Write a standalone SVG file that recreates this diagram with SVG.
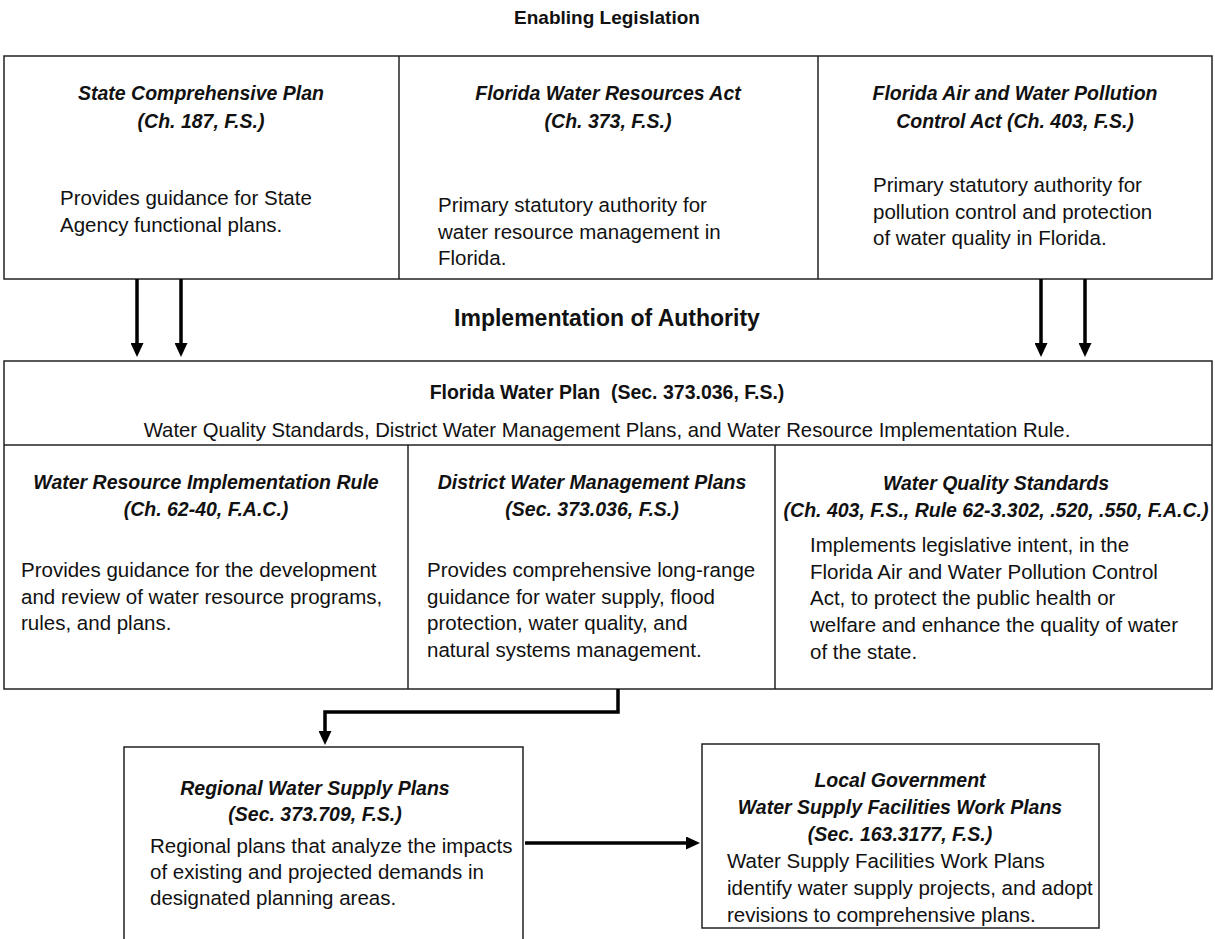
<svg xmlns="http://www.w3.org/2000/svg" width="1215" height="939" viewBox="0 0 1215 939">
<style>
text{font-family:"Liberation Sans",Arial,sans-serif;fill:#111}
.h1{font-size:19px;font-weight:bold;text-anchor:middle}
.h2{font-size:23px;font-weight:bold;text-anchor:middle}
.t{font-size:19.5px;font-weight:bold;font-style:italic;text-anchor:middle}
.b{font-size:20.5px}
.bc{font-size:20.3px;text-anchor:middle}
.fb{font-size:19.5px;font-weight:bold;text-anchor:middle}
.box{fill:#fff;stroke:#222;stroke-width:1.5}
.ln{stroke:#222;stroke-width:1.5;fill:none}
.con{stroke:#000;stroke-width:3.5;fill:none}
</style>
<defs>
<marker id="ah" viewBox="0 0 14 13" refX="2" refY="6.5" markerWidth="14" markerHeight="13" markerUnits="userSpaceOnUse" orient="auto">
<path d="M0,0 L14,6.5 L0,13 z" fill="#000"/>
</marker>
</defs>
<rect width="1215" height="939" fill="#fff"/>

<text class="h1" x="607" y="24">Enabling Legislation</text>
<text class="h2" x="607" y="326">Implementation of Authority</text>

<g id="enabling">
<rect class="box" x="4" y="56" width="1208" height="223"/>
<line class="ln" x1="399" y1="56" x2="399" y2="279"/>
<line class="ln" x1="818" y1="56" x2="818" y2="279"/>
</g>

<g id="state-comprehensive-plan">
<text class="t" x="201" y="100">State Comprehensive Plan</text>
<text class="t" x="201" y="128">(Ch. 187, F.S.)</text>
<text class="b" x="60" y="205">Provides guidance for State</text>
<text class="b" x="60" y="232">Agency functional plans.</text>
</g>

<g id="florida-water-resources-act">
<text class="t" x="608" y="100">Florida Water Resources Act</text>
<text class="t" x="608" y="128">(Ch. 373, F.S.)</text>
<text class="b" x="438" y="212">Primary statutory authority for</text>
<text class="b" x="438" y="239">water resource management in</text>
<text class="b" x="438" y="265">Florida.</text>
</g>

<g id="air-water-pollution-act">
<text class="t" x="1015" y="100">Florida Air and Water Pollution</text>
<text class="t" x="1015" y="128">Control Act (Ch. 403, F.S.)</text>
<text class="b" x="873" y="192">Primary statutory authority for</text>
<text class="b" x="873" y="219">pollution control and protection</text>
<text class="b" x="873" y="245">of water quality in Florida.</text>
</g>

<g id="florida-water-plan">
<rect class="box" x="4" y="361" width="1208" height="328"/>
<line class="ln" x1="4" y1="445" x2="1212" y2="445"/>
<line class="ln" x1="408" y1="445" x2="408" y2="689"/>
<line class="ln" x1="775" y1="445" x2="775" y2="689"/>
<text class="fb" x="607" y="399" xml:space="preserve">Florida Water Plan  (Sec. 373.036, F.S.)</text>
<text class="bc" x="607" y="437">Water Quality Standards, District Water Management Plans, and Water Resource Implementation Rule.</text>
</g>

<g id="water-resource-implementation-rule">
<text class="t" x="206" y="489">Water Resource Implementation Rule</text>
<text class="t" x="206" y="516">(Ch. 62-40, F.A.C.)</text>
<text class="b" x="21" y="577">Provides guidance for the development</text>
<text class="b" x="21" y="604">and review of water resource programs,</text>
<text class="b" x="21" y="630">rules, and plans.</text>
</g>

<g id="district-water-management-plans">
<text class="t" x="592" y="489">District Water Management Plans</text>
<text class="t" x="592" y="516">(Sec. 373.036, F.S.)</text>
<text class="b" x="427" y="577">Provides comprehensive long-range</text>
<text class="b" x="427" y="604">guidance for water supply, flood</text>
<text class="b" x="427" y="630">protection, water quality, and</text>
<text class="b" x="427" y="657">natural systems management.</text>
</g>

<g id="water-quality-standards">
<text class="t" x="996" y="490">Water Quality Standards</text>
<text class="t" x="996" y="517">(Ch. 403, F.S., Rule 62-3.302, .520, .550, F.A.C.)</text>
<text class="b" x="810" y="552">Implements legislative intent, in the</text>
<text class="b" x="810" y="579">Florida Air and Water Pollution Control</text>
<text class="b" x="810" y="605">Act, to protect the public health or</text>
<text class="b" x="810" y="632">welfare and enhance the quality of water</text>
<text class="b" x="810" y="659">of the state.</text>
</g>

<g id="regional-water-supply-plans">
<rect class="box" x="124" y="747" width="399" height="260"/>
<text class="t" x="315" y="795">Regional Water Supply Plans</text>
<text class="t" x="315" y="821">(Sec. 373.709, F.S.)</text>
<text class="b" x="150" y="853">Regional plans that analyze the impacts</text>
<text class="b" x="150" y="879">of existing and projected demands in</text>
<text class="b" x="150" y="905">designated planning areas.</text>
</g>

<g id="local-government-work-plans">
<rect class="box" x="702" y="744" width="397" height="184"/>
<text class="t" x="900" y="787">Local Government</text>
<text class="t" x="900" y="814">Water Supply Facilities Work Plans</text>
<text class="t" x="900" y="841">(Sec. 163.3177, F.S.)</text>
<text class="b" x="727" y="868">Water Supply Facilities Work Plans</text>
<text class="b" x="727" y="895">identify water supply projects, and adopt</text>
<text class="b" x="727" y="922">revisions to comprehensive plans.</text>
</g>

<g id="connectors">
<line class="con" x1="137" y1="279" x2="137" y2="345" marker-end="url(#ah)"/>
<line class="con" x1="181" y1="279" x2="181" y2="345" marker-end="url(#ah)"/>
<line class="con" x1="1041" y1="279" x2="1041" y2="345" marker-end="url(#ah)"/>
<line class="con" x1="1085" y1="279" x2="1085" y2="345" marker-end="url(#ah)"/>
<path class="con" d="M618,689 V712 H325 V733" marker-end="url(#ah)"/>
<line class="con" x1="525" y1="843" x2="688" y2="843" marker-end="url(#ah)"/>
</g>
</svg>
